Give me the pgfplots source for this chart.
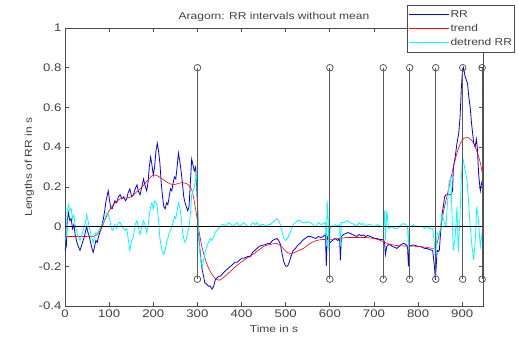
\documentclass[border=0pt]{standalone}
\usepackage{fontspec}
\setmainfont{Liberation Sans}[FakeStretch=1.2]
\usepackage{pgfplots}
\pgfplotsset{compat=1.18}
\definecolor{txt}{gray}{0.25}
\definecolor{stemc}{gray}{0.35}
\definecolor{mblue}{rgb}{0,0,1}
\definecolor{mred}{rgb}{1,0,0}
\definecolor{mcyan}{rgb}{0,1,1}
\begin{document}
\begin{tikzpicture}
\begin{axis}[name=ax, scale only axis, width=418pt, height=278pt,
  xmin=0, xmax=947, ymin=-0.4, ymax=1,
  xtick={0,100,200,300,400,500,600,700,800,900},
  ytick={-0.4,-0.2,0,0.2,0.4,0.6,0.8,1},
  yticklabels={-0.4,-0.2,0,0.2,0.4,0.6,0.8,1},
  xticklabels={0,100,200,300,400,500,600,700,800,900},
  tick align=inside, xtick pos=both, ytick pos=both,
  major tick length=4pt,
  axis line style={black!70, line width=0.7pt},
  every tick/.style={black!70, line width=0.7pt},
  tick label style={font=\fontsize{11}{13}\selectfont, text=txt},
  title={Aragorn: RR intervals without mean},
  title style={font=\fontsize{10}{12}\selectfont, text=txt, yshift=-3pt},
  xlabel={Time in s}, ylabel={Lengths of RR in s},
  label style={font=\fontsize{10}{12}\selectfont, text=txt},
  xlabel style={yshift=-1pt},
  ylabel style={yshift=-2pt},
  legend style={at={(0.818,1.083)}, anchor=north west, draw=black!70, line width=0.7pt, fill=white,
    font=\fontsize{10}{12}\selectfont, text=txt, row sep=3.5pt, inner xsep=1.5pt, inner ysep=4pt,
    nodes={inner sep=1pt}},
  legend cell align=left,
  legend image code/.code={\draw[#1] (0pt,0pt) -- (40pt,0pt);},
]
\addplot[mblue, line width=0.8pt] coordinates {
(0,-0.12) (3,-0.10) (5,0.03) (8,0.07) (11,0.03) (14,0.04) (17,-0.01) (20,0.01) (23,-0.04) (27,-0.08)
(30,-0.10) (34,-0.12) (37,-0.10) (41,-0.07) (44,-0.05) (47,-0.02) (49,0.00) (52,-0.03) (55,-0.05) (58,-0.08)
(61,-0.11) (64,-0.13) (67,-0.10) (70,-0.07) (73,-0.08) (76,-0.05) (79,-0.03) (83,0.00) (87,0.04) (90,0.08)
(93,0.13) (96,0.16) (98,0.18) (101,0.13) (104,0.09) (107,0.09) (110,0.11) (113,0.13) (117,0.12) (121,0.15)
(125,0.16) (129,0.14) (133,0.15) (137,0.13) (140,0.14) (143,0.17) (147,0.19) (151,0.15) (155,0.16) (159,0.19)
(163,0.21) (166,0.18) (170,0.16) (174,0.20) (178,0.24) (181,0.21) (185,0.18) (188,0.22) (191,0.30) (194,0.35)
(197,0.31) (200,0.26) (203,0.30) (206,0.38) (209,0.42) (212,0.38) (215,0.32) (218,0.22) (221,0.15) (224,0.10)
(227,0.09) (230,0.12) (233,0.11) (236,0.15) (239,0.19) (242,0.18) (245,0.22) (248,0.25) (251,0.24) (254,0.30)
(257,0.37) (260,0.33) (263,0.28) (266,0.22) (269,0.15) (272,0.12) (275,0.10) (278,0.08) (281,0.10) (284,0.22)
(287,0.34) (290,0.31) (293,0.28) (296,0.30) (298,0.22) (300,0.12) (302,-0.03) (305,-0.10) (308,-0.17) (311,-0.22)
(314,-0.25) (317,-0.285) (321,-0.29) (325,-0.30) (329,-0.30) (333,-0.315) (337,-0.30) (340,-0.27) (344,-0.26) (348,-0.25)
(352,-0.25) (356,-0.24) (360,-0.23) (365,-0.22) (370,-0.21) (375,-0.20) (380,-0.19) (385,-0.18) (390,-0.18) (395,-0.17)
(400,-0.16) (405,-0.16) (410,-0.155) (415,-0.15) (420,-0.15) (425,-0.13) (430,-0.12) (435,-0.11) (440,-0.10) (445,-0.095)
(450,-0.093) (455,-0.09) (460,-0.085) (465,-0.085) (470,-0.07) (475,-0.065) (480,-0.06) (484,-0.07) (488,-0.09) (492,-0.14)
(496,-0.18) (500,-0.20) (504,-0.20) (508,-0.18) (512,-0.15) (517,-0.12) (522,-0.11) (527,-0.095) (533,-0.084) (538,-0.07)
(544,-0.06) (550,-0.05) (556,-0.05) (562,-0.055) (568,-0.06) (574,-0.05) (580,-0.055) (585,-0.05) (590,-0.04) (592,-0.20)
(594,-0.05) (598,-0.07) (601,-0.08) (606,-0.07) (612,-0.06) (618,-0.07) (622,-0.06) (624,-0.17) (626,-0.05) (631,-0.04)
(636,-0.035) (641,-0.03) (646,-0.034) (651,-0.04) (656,-0.045) (661,-0.05) (666,-0.04) (671,-0.045) (676,-0.042) (681,-0.05)
(686,-0.045) (692,-0.05) (697,-0.055) (702,-0.06) (707,-0.06) (712,-0.065) (717,-0.065) (722,-0.067) (724,-0.08) (726,-0.14)
(729,-0.10) (733,-0.09) (737,-0.093) (742,-0.10) (747,-0.105) (752,-0.11) (757,-0.10) (762,-0.09) (767,-0.084) (772,-0.09)
(776,-0.10) (778,-0.20) (780,-0.10) (784,-0.095) (789,-0.093) (794,-0.095) (799,-0.10) (805,-0.10) (810,-0.105) (815,-0.11)
(820,-0.11) (825,-0.115) (829,-0.118) (833,-0.12) (837,-0.20) (839,-0.27) (841,-0.20) (843,-0.12) (846,-0.126) (848,-0.12)
(851,-0.03) (854,0.06) (857,0.10) (860,0.15) (863,0.16) (866,0.16) (870,0.16) (874,0.16) (878,0.18) (880,0.30)
(884,0.35) (888,0.42) (892,0.47) (895,0.55) (898,0.70) (900,0.77) (903,0.80) (906,0.76) (909,0.74) (912,0.72)
(915,0.65) (918,0.60) (921,0.52) (924,0.46) (926,0.42) (929,0.40) (932,0.44) (934,0.40) (937,0.27) (939,0.22)
(941,0.18) (944,0.22) (947,0.25)
};
\addlegendentry{RR}
\addplot[mred, line width=0.6pt, smooth] coordinates {
(0,-0.05) (20,-0.05) (40,-0.05) (60,-0.05) (70,-0.045) (80,-0.02) (90,0.03) (100,0.08) (110,0.11) (125,0.14)
(140,0.145) (150,0.15) (160,0.17) (175,0.20) (190,0.24) (200,0.26) (210,0.255) (220,0.24) (230,0.225) (245,0.21)
(260,0.22) (270,0.22) (280,0.21) (288,0.18) (295,0.10) (300,0.03) (305,-0.04) (310,-0.10) (320,-0.18) (330,-0.23)
(340,-0.26) (350,-0.27) (360,-0.255) (375,-0.225) (390,-0.195) (405,-0.17) (420,-0.148) (435,-0.125) (450,-0.10) (465,-0.09)
(480,-0.085) (490,-0.10) (503,-0.13) (515,-0.135) (525,-0.125) (540,-0.11) (555,-0.085) (570,-0.07) (585,-0.065) (600,-0.065)
(620,-0.06) (640,-0.055) (660,-0.055) (680,-0.055) (700,-0.06) (715,-0.07) (730,-0.085) (750,-0.095) (770,-0.098) (785,-0.098)
(800,-0.10) (820,-0.105) (835,-0.11) (842,-0.09) (850,-0.02) (858,0.08) (865,0.15) (872,0.22) (880,0.30) (888,0.37)
(896,0.42) (904,0.445) (911,0.45) (918,0.44) (926,0.42) (933,0.38) (941,0.32) (947,0.25)
};
\addlegendentry{trend}
\addplot[mcyan, line width=0.8pt] coordinates {
(0,-0.07) (3,-0.05) (5,0.08) (8,0.11) (11,0.08) (14,0.09) (17,0.04) (20,0.06) (23,0.01) (27,-0.03)
(30,-0.05) (34,-0.07) (37,-0.05) (41,-0.02) (44,0.00) (47,0.03) (49,0.06) (52,0.03) (55,0.00) (58,-0.03)
(61,-0.06) (64,-0.08) (67,-0.05) (70,-0.03) (73,-0.04) (76,-0.02) (79,-0.01) (83,0.01) (87,0.02) (90,0.04)
(93,0.06) (96,0.07) (98,0.06) (101,0.04) (104,0.00) (107,-0.02) (110,-0.01) (113,0.01) (117,-0.01) (121,0.02)
(125,0.02) (129,0.00) (133,-0.01) (137,-0.02) (140,-0.01) (143,-0.06) (147,-0.12) (151,-0.07) (155,-0.05) (159,0.01)
(163,0.03) (166,0.00) (170,-0.04) (174,0.00) (178,0.03) (181,0.01) (185,-0.03) (188,0.00) (191,0.06) (194,0.10)
(197,0.12) (200,0.09) (203,0.13) (206,0.12) (209,0.10) (212,0.03) (215,-0.06) (218,-0.10) (221,-0.13) (224,-0.14)
(227,-0.12) (230,-0.08) (233,-0.06) (236,-0.03) (239,-0.02) (242,0.00) (245,0.02) (248,0.05) (251,0.04) (254,0.08)
(257,0.12) (260,0.10) (263,0.05) (266,-0.02) (269,-0.06) (272,-0.08) (275,-0.06) (278,-0.03) (281,0.00) (284,0.06)
(287,0.16) (290,0.18) (293,0.20) (296,0.24) (298,0.27) (300,0.15) (302,0.0) (305,-0.12) (308,-0.18) (311,-0.20)
(314,-0.17) (317,-0.13) (321,-0.10) (325,-0.08) (329,-0.06) (333,-0.07) (337,-0.05) (340,-0.03) (344,-0.02) (348,-0.01)
(352,0.00) (356,0.01) (360,0.01) (365,0.00) (370,0.02) (375,0.015) (380,0.00) (385,0.01) (390,0.02) (395,0.00)
(400,0.01) (405,0.02) (410,0.01) (415,0.00) (420,0.00) (425,0.02) (430,0.01) (435,0.02) (440,0.00) (445,0.01)
(450,0.01) (455,0.00) (460,0.01) (465,0.01) (470,0.02) (475,0.03) (480,0.04) (484,0.03) (488,0.01) (492,-0.03)
(496,-0.06) (500,-0.07) (504,-0.06) (508,-0.04) (512,-0.02) (517,0.01) (522,0.02) (527,0.03) (533,0.03) (538,0.02)
(544,0.02) (550,0.025) (556,0.02) (562,0.01) (568,0.00) (574,0.02) (580,0.01) (585,0.015) (590,0.02) (592,-0.10)
(594,0.13) (596,0.05) (598,-0.13) (601,0.0) (606,0.00) (612,0.01) (618,0.00) (622,0.01) (624,-0.10) (626,0.02)
(631,0.02) (636,0.025) (641,0.03) (646,0.02) (651,0.015) (656,0.01) (661,0.00) (666,0.02) (671,0.01) (676,0.015)
(681,0.00) (686,0.01) (692,0.01) (697,0.00) (702,0.00) (707,0.01) (712,0.005) (717,0.00) (722,0.00) (724,0.08)
(726,-0.07) (729,0.08) (733,-0.01) (737,-0.005) (742,0.00) (747,-0.01) (752,-0.01) (757,0.00) (762,0.01) (767,0.015)
(772,0.01) (776,0.00) (778,-0.11) (780,0.00) (784,0.00) (789,0.01) (794,0.00) (799,0.00) (805,0.00) (810,0.00)
(815,-0.01) (820,0.00) (825,-0.01) (829,-0.01) (833,-0.01) (837,-0.09) (839,-0.16) (841,-0.10) (843,-0.03) (846,-0.04)
(848,-0.05) (851,0.0) (854,0.06) (857,0.04) (860,0.02) (863,0.00) (866,0.10) (870,0.22) (874,0.25) (877,0.05)
(880,-0.12) (884,-0.05) (888,0.10) (891,-0.13) (895,0.05) (898,0.25) (901,0.35) (905,0.30) (911,0.23) (915,0.10)
(918,0.00) (922,-0.10) (926,-0.17) (930,-0.05) (933,0.10) (936,0.05) (941,-0.10) (944,-0.05) (947,0.00)
};
\addlegendentry{detrend RR}
\addplot[black, line width=0.7pt, forget plot] coordinates {(0,0) (947,0)};
\addplot[stemc, line width=1.1pt, mark=o, mark size=3.3pt, mark options={solid, fill=none, line width=0.8pt}, unbounded coords=jump, forget plot] coordinates {
(300,-0.265) (300,0.8) (300,nan)
(600,-0.265) (600,0.8) (600,nan)
(721,-0.265) (721,0.8) (721,nan)
(781,-0.265) (781,0.8) (781,nan)
(840,-0.265) (840,0.8) (840,nan)
(901,-0.265) (901,0.8) (901,nan)
(945,-0.265) (945,0.8)
};
\end{axis}
\pgfresetboundingbox
\path[use as bounding box] (ax.south west) ++(-65pt,-32pt) rectangle ++(518pt,338pt);
\end{tikzpicture}
\end{document}
